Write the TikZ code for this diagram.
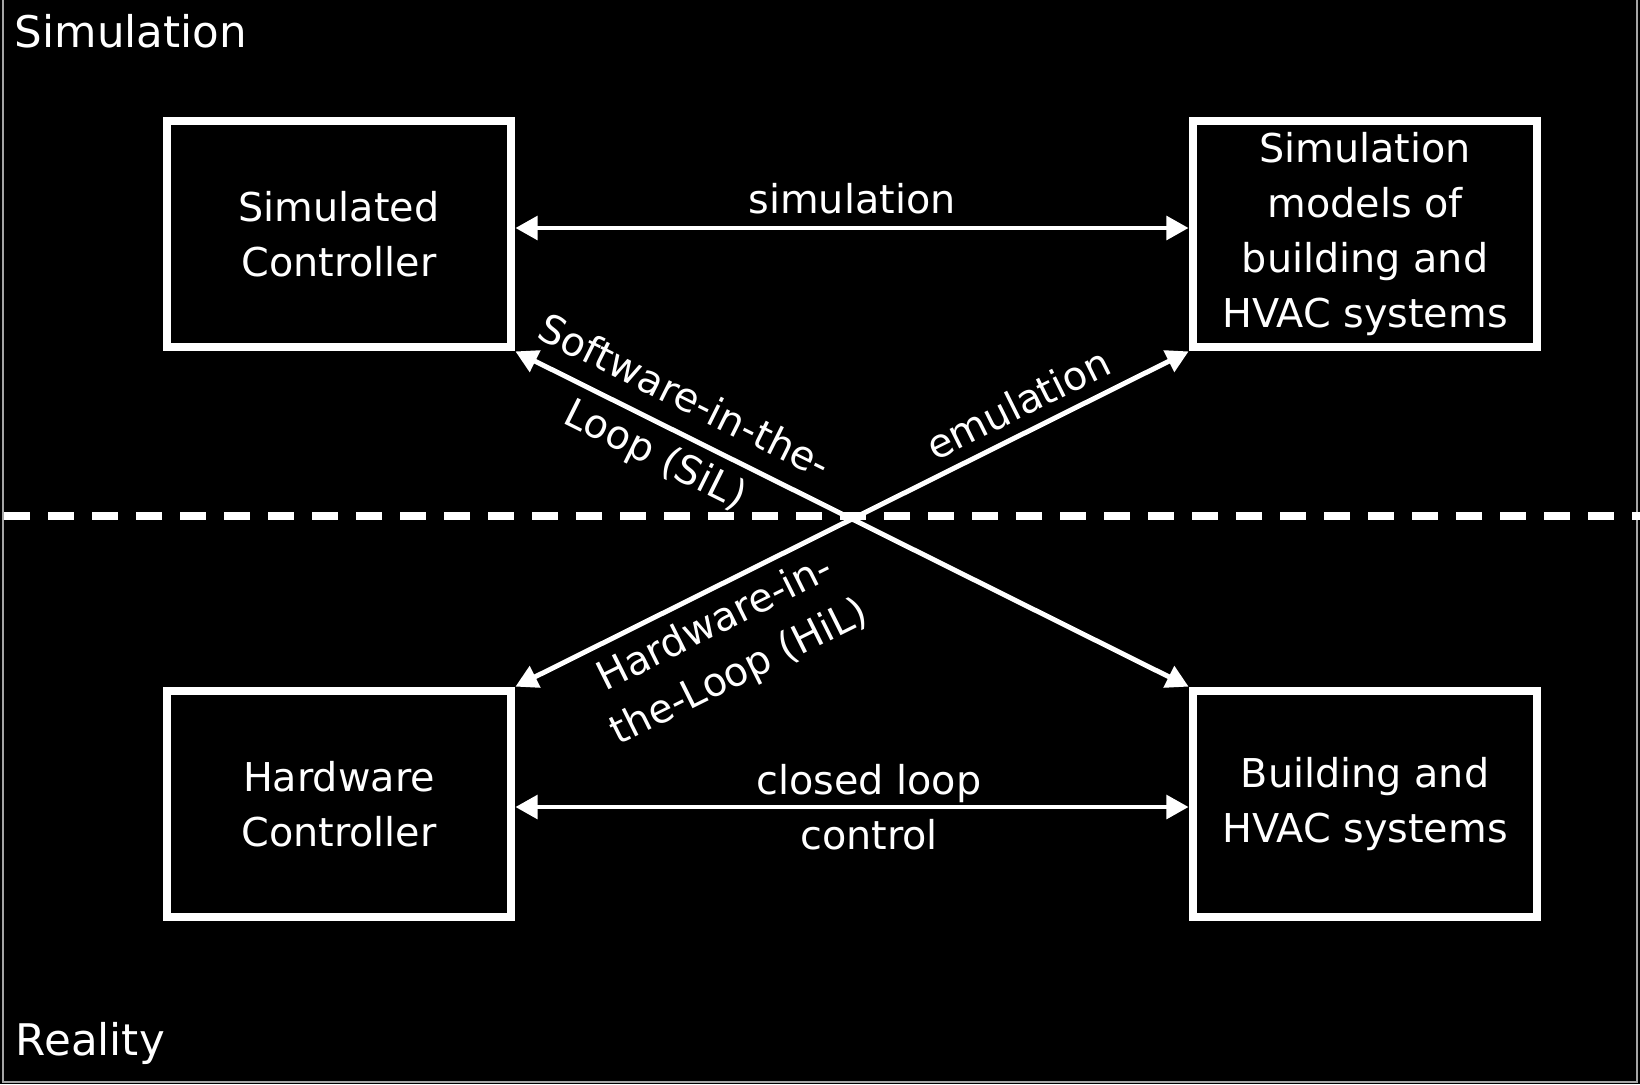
\documentclass[tikz,border=0pt]{standalone}
\usepackage{fontspec}
\setmainfont{DejaVu Sans}
\usetikzlibrary{arrows.meta}

\begin{document}
\begin{tikzpicture}[x=1cm, y=1cm, line width=0.5pt,
  box/.style={draw=white, line width=2.5pt, minimum width=3.44cm, minimum height=2.26cm,
    inner sep=0pt, align=center, text=white, font=\fontsize{11.3}{15.6}\selectfont},
  link/.style={<->, >={Triangle[length=6.3pt, width=6.6pt]}, draw=white, line width=1.4pt},
  lbl/.style={text=white, align=center, font=\fontsize{11.3}{15.6}\selectfont},
  side/.style={text=white, inner sep=0pt, anchor=base west, font=\fontsize{12.4}{15}\selectfont}]
  \fill[black] (0,0) rectangle (16.4,10.84);
  \useasboundingbox (0,0) rectangle (16.4,10.84);
  \draw[gray!70, line width=0.4pt] (0.03,10.84) -- (0.03,0.02) -- (16.37,0.02) -- (16.37,10.84);
  % border between simulation and reality
  \draw[white, line width=2.3pt, dash pattern=on 7.4pt off 5.12pt] (0.04,5.68) -- (16.4,5.68);
  \node[side] (simlabel) at (0.14,10.37) {Simulation};
  \node[side] (reallabel) at (0.15,0.29) {Reality};
  % the four blocks
  \node[box] (simctrl) at (3.39,8.50) {Simulated\\Controller};
  \node[box] (simmodel) at (13.65,8.50) {Simulation\\models of\\building and\\HVAC systems};
  \node[box] (hwctrl) at (3.39,2.80) {Hardware\\Controller};
  \node[box] (bldg) at (13.65,2.80) {Building and\\HVAC systems};
  % links
  \draw[link] ([yshift=0.06cm]simctrl.east) -- node[lbl, above] (simtxt) {simulation} ([yshift=0.06cm]simmodel.west);
  \draw[link] ([yshift=-0.03cm]hwctrl.east) -- node[lbl, xshift=0.17cm] (cltxt) {closed loop\\control} ([yshift=-0.03cm]bldg.west);
  \draw[link] (simctrl.south east) -- node[lbl, sloped, pos=0.228] (siltxt) {Software-in-the-\\[2.6pt]Loop (SiL)} (bldg.north west);
  \draw[link] (hwctrl.north east) -- node[lbl, sloped, above, pos=0.766] (emutxt) {emulation}
    node[lbl, sloped, below, pos=0.275] (hiltxt) {Hardware-in-\\the-Loop (HiL)} (simmodel.south west);
\end{tikzpicture}
\end{document}
